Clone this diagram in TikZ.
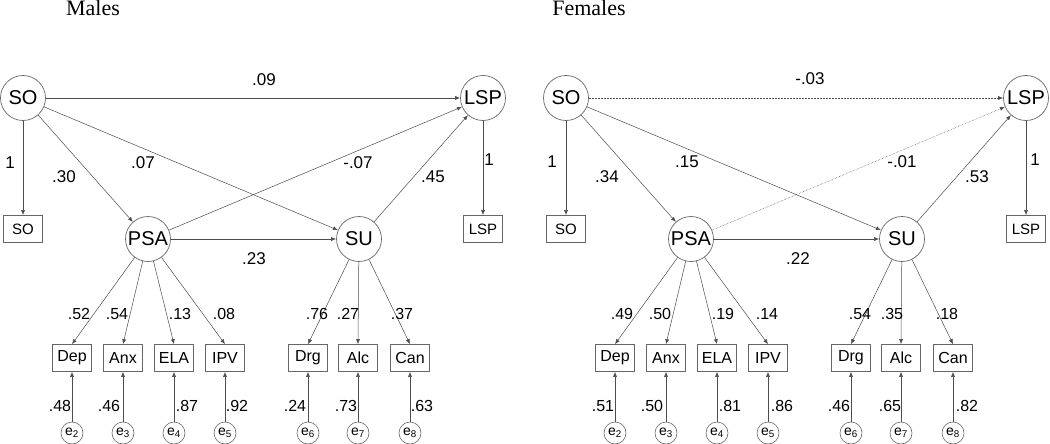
\documentclass[tikz,border=0pt]{standalone}
\usepackage{fontspec}
\setmainfont{Liberation Sans}
\newfontfamily\titlefont{Liberation Serif}
\usetikzlibrary{arrows.meta, positioning}

\tikzset{
    latent/.style={circle, draw=black!60, line width=0.7pt, minimum size=45pt, inner sep=0pt, font=\fontsize{20}{24}\selectfont},
    obs/.style={rectangle, draw=black!60, line width=0.7pt, minimum width=39pt, minimum height=27pt, inner sep=0pt, font=\fontsize{16}{19}\selectfont},
    obstop/.style={obs, font=\fontsize{15}{18}\selectfont},
    err/.style={circle, draw=black!60, line width=0.6pt, minimum size=22pt, inner sep=0pt, font=\fontsize{14}{16}\selectfont},
    lbl/.style={inner sep=0pt, font=\fontsize{17}{20}\selectfont},
    lblsm/.style={inner sep=0pt, font=\fontsize{16}{19}\selectfont},
    ttl/.style={inner sep=0pt, anchor=base, font=\titlefont\fontsize{22}{26}\selectfont},
    arr/.style={draw=black!70, line width=0.5pt, -{Latex[length=5pt,width=4pt]}}
}

\begin{document}
\begin{tikzpicture}[x=1pt, y=-1pt]
    \useasboundingbox (0,0) rectangle (1050,444);

    \node[ttl] (tMales) at (93,16) {Males};
    \node[ttl] (tFemales) at (589,16) {Females};

    % Males
    \node[latent] (mSO) at (23,98) {SO};
    \node[latent] (mLSP) at (483,98) {LSP};
    \node[latent] (mPSA) at (148,239) {PSA};
    \node[latent] (mSU) at (359,239) {SU};
    \node[obstop] (mSOx) at (23,229) {SO};
    \node[obstop] (mLSPx) at (483,229) {LSP};

    \node[obs] (mDep) at (72,358) {Dep};
    \node[obs] (mAnx) at (123,358) {Anx};
    \node[obs] (mELA) at (174,358) {ELA};
    \node[obs] (mIPV) at (225,358) {IPV};
    \node[obs] (mDrg) at (308,358) {Drg};
    \node[obs] (mAlc) at (358,358) {Alc};
    \node[obs] (mCan) at (410,358) {Can};

    \node[err] (me2) at (72,433) {e\textsubscript{2}};
    \node[err] (me3) at (123,433) {e\textsubscript{3}};
    \node[err] (me4) at (174,433) {e\textsubscript{4}};
    \node[err] (me5) at (225,433) {e\textsubscript{5}};
    \node[err] (me6) at (308,433) {e\textsubscript{6}};
    \node[err] (me7) at (358,433) {e\textsubscript{7}};
    \node[err] (me8) at (410,433) {e\textsubscript{8}};

    \draw[arr] (mSO) -- (mLSP);
    \draw[arr] (mSO) -- (mSOx);
    \draw[arr] (mSO) -- (mPSA);
    \draw[arr] (mSO) -- (mSU);
    \draw[arr] (mPSA) -- (mLSP);
    \draw[arr] (mSU) -- (mLSP);
    \draw[arr] (mPSA) -- (mSU);
    \draw[arr] (mLSP) -- (mLSPx);

    \draw[arr] (mPSA) -- (mDep.north);
    \draw[arr] (mPSA) -- (mAnx.north);
    \draw[arr] (mPSA) -- (mELA.north);
    \draw[arr] (mPSA) -- (mIPV.north);
    \draw[arr] (mSU) -- (mDrg.north);
    \draw[arr] (mSU) -- (mAlc.north);
    \draw[arr] (mSU) -- (mCan.north);

    \draw[arr] (me2) -- (mDep);
    \draw[arr] (me3) -- (mAnx);
    \draw[arr] (me4) -- (mELA);
    \draw[arr] (me5) -- (mIPV);
    \draw[arr] (me6) -- (mDrg);
    \draw[arr] (me7) -- (mAlc);
    \draw[arr] (me8) -- (mCan);

    \node[lbl] (mb1) at (264,80) {.09};
    \node[lbl] (mb2) at (10,163) {1};
    \node[lbl] (mb3) at (64,177) {.30};
    \node[lbl] (mb4) at (143,163) {.07};
    \node[lbl] (mb5) at (358,163) {-.07};
    \node[lbl] (mb6) at (433,177) {.45};
    \node[lbl] (mb7) at (489,160) {1};
    \node[lbl] (mb8) at (254,259) {.23};

    \node[lblsm] (ml1) at (79,314) {.52};
    \node[lblsm] (ml2) at (117,314) {.54};
    \node[lblsm] (ml3) at (180,314) {.13};
    \node[lblsm] (ml4) at (224,314) {.08};
    \node[lblsm] (ml5) at (317,314) {.76};
    \node[lblsm] (ml6) at (348,314) {.27};
    \node[lblsm] (ml7) at (402,314) {.37};

    \node[lblsm] (mr2) at (60,406) {.48};
    \node[lblsm] (mr3) at (109,406) {.46};
    \node[lblsm] (mr4) at (187,406) {.87};
    \node[lblsm] (mr5) at (237,406) {.92};
    \node[lblsm] (mr6) at (295,406) {.24};
    \node[lblsm] (mr7) at (346,406) {.73};
    \node[lblsm] (mr8) at (422,406) {.63};

    % Females
    \begin{scope}[xshift=543pt]
        \node[latent] (fSO) at (23,98) {SO};
        \node[latent] (fLSP) at (483,98) {LSP};
        \node[latent] (fPSA) at (148,239) {PSA};
        \node[latent] (fSU) at (359,239) {SU};
        \node[obstop] (fSOx) at (23,229) {SO};
        \node[obstop] (fLSPx) at (483,229) {LSP};

        \node[obs] (fDep) at (72,358) {Dep};
        \node[obs] (fAnx) at (123,358) {Anx};
        \node[obs] (fELA) at (174,358) {ELA};
        \node[obs] (fIPV) at (225,358) {IPV};
        \node[obs] (fDrg) at (308,358) {Drg};
        \node[obs] (fAlc) at (358,358) {Alc};
        \node[obs] (fCan) at (410,358) {Can};

        \node[err] (fe2) at (72,433) {e\textsubscript{2}};
        \node[err] (fe3) at (123,433) {e\textsubscript{3}};
        \node[err] (fe4) at (174,433) {e\textsubscript{4}};
        \node[err] (fe5) at (225,433) {e\textsubscript{5}};
        \node[err] (fe6) at (308,433) {e\textsubscript{6}};
        \node[err] (fe7) at (358,433) {e\textsubscript{7}};
        \node[err] (fe8) at (410,433) {e\textsubscript{8}};

        \draw[arr, densely dotted] (fSO) -- (fLSP);
        \draw[arr] (fSO) -- (fSOx);
        \draw[arr] (fSO) -- (fPSA);
        \draw[arr] (fSO) -- (fSU);
        \draw[arr, densely dotted] (fPSA) -- (fLSP);
        \draw[arr] (fSU) -- (fLSP);
        \draw[arr] (fPSA) -- (fSU);
        \draw[arr] (fLSP) -- (fLSPx);

        \draw[arr] (fPSA) -- (fDep.north);
        \draw[arr] (fPSA) -- (fAnx.north);
        \draw[arr] (fPSA) -- (fELA.north);
        \draw[arr] (fPSA) -- (fIPV.north);
        \draw[arr] (fSU) -- (fDrg.north);
        \draw[arr] (fSU) -- (fAlc.north);
        \draw[arr] (fSU) -- (fCan.north);

        \draw[arr] (fe2) -- (fDep);
        \draw[arr] (fe3) -- (fAnx);
        \draw[arr] (fe4) -- (fELA);
        \draw[arr] (fe5) -- (fIPV);
        \draw[arr] (fe6) -- (fDrg);
        \draw[arr] (fe7) -- (fAlc);
        \draw[arr] (fe8) -- (fCan);

        \node[lbl] (fb1) at (267,79) {-.03};
        \node[lbl] (fb2) at (9,162) {1};
        \node[lbl] (fb3) at (64,177) {.34};
        \node[lbl] (fb4) at (144,162) {.15};
        \node[lbl] (fb5) at (359,162) {-.01};
        \node[lbl] (fb6) at (434,177) {.53};
        \node[lbl] (fb7) at (492,160) {1};
        \node[lbl] (fb8) at (255,259) {.22};

        \node[lblsm] (fl1) at (79,314) {.49};
        \node[lblsm] (fl2) at (117,314) {.50};
        \node[lblsm] (fl3) at (180,314) {.19};
        \node[lblsm] (fl4) at (224,314) {.14};
        \node[lblsm] (fl5) at (317,314) {.54};
        \node[lblsm] (fl6) at (349,314) {.35};
        \node[lblsm] (fl7) at (404,314) {.18};

        \node[lblsm] (fr2) at (60,406) {.51};
        \node[lblsm] (fr3) at (109,406) {.50};
        \node[lblsm] (fr4) at (187,406) {.81};
        \node[lblsm] (fr5) at (239,406) {.86};
        \node[lblsm] (fr6) at (296,406) {.46};
        \node[lblsm] (fr7) at (347,406) {.65};
        \node[lblsm] (fr8) at (424,406) {.82};
    \end{scope}
\end{tikzpicture}
\end{document}
